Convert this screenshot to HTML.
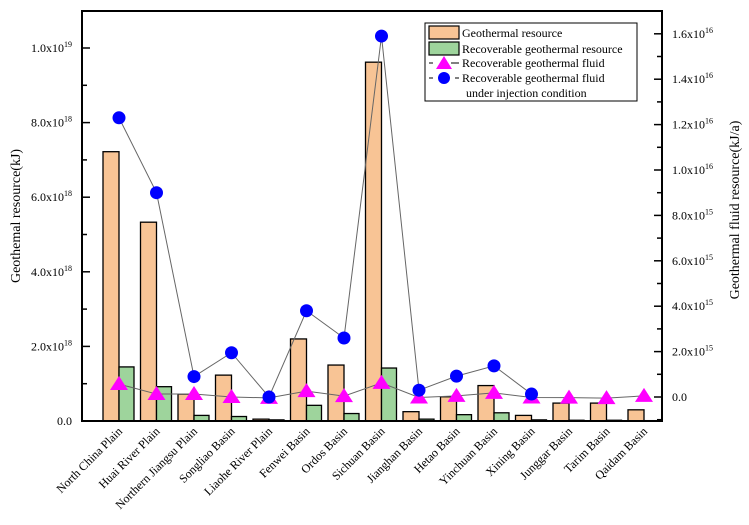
<!DOCTYPE html>
<html><head><meta charset="utf-8"><style>
body{margin:0;background:#fff;}
svg text{font-family:"Liberation Serif",serif;fill:#000;}
</style></head><body>
<svg id="chart" width="749" height="520" viewBox="0 0 749 520" xmlns="http://www.w3.org/2000/svg">
<rect x="0" y="0" width="749" height="520" fill="#fff"/>
<g id="bars"></g><g id="lines"></g><g id="marks"></g><g id="axes"></g>
<g>
<rect x="425" y="23" width="212" height="78" fill="#fff" stroke="#000" stroke-width="1"/>
<rect x="429" y="26" width="30" height="13" fill="#f8c495" stroke="#000" stroke-width="1.2"/>
<text x="462" y="37" font-size="12">Geothermal resource</text>
<rect x="429" y="42" width="30" height="13" fill="#9ed49c" stroke="#000" stroke-width="1.2"/>
<text x="462" y="53" font-size="12">Recoverable geothermal resource</text>
<line x1="429" y1="63" x2="459" y2="63" stroke="#000" stroke-dasharray="4,18"/>
<line x1="455" y1="63" x2="459" y2="63" stroke="#000"/>
<polygon points="444,56 452,69 436,69" fill="#ff00ff"/>
<text x="462" y="67" font-size="12">Recoverable geothermal fluid</text>
<line x1="429" y1="78" x2="433" y2="78" stroke="#000"/>
<line x1="455" y1="78" x2="459" y2="78" stroke="#000"/>
<circle cx="444" cy="78" r="6" fill="#0000ff"/>
<text x="462" y="82" font-size="12">Recoverable geothermal fluid</text>
<text x="466" y="97" font-size="12">under injection condition</text>
</g>
</svg>
<script>
const categories=["North China Plain","Huai River Plain","Northern Jiangsu Plain","Songliao Basin","Liaohe River Plain","Fenwei Basin","Ordos Basin","Sichuan Basin","Jianghan Basin","Hetao Basin","Yinchuan Basin","Xining Basin","Junggar Basin","Tarim Basin","Qaidam Basin"];
const geoResource=[7.22,5.33,0.72,1.23,0.05,2.2,1.5,9.62,0.25,0.65,0.95,0.15,0.48,0.48,0.3]; // 1e18 kJ
const recoverableResource=[1.45,0.92,0.15,0.12,0.03,0.42,0.2,1.42,0.05,0.17,0.22,0.03,0.02,0.02,0.01]; // 1e18 kJ
const recoverableFluid=[0.57,0.13,0.13,0.0,-0.04,0.26,0.04,0.62,-0.02,0.05,0.18,-0.02,-0.03,-0.05,0.05]; // 1e15 kJ/a
const injectionFluid=[12.3,9.0,0.9,1.95,0.0,3.8,2.6,15.9,0.3,0.92,1.37,0.13,null,null,null]; // 1e15 kJ/a
const leftTicks=[0,2,4,6,8,10];
const leftTickLabels=["0.0","2.0x10^18","4.0x10^18","6.0x10^18","8.0x10^18","1.0x10^19"];
const rightTicks=[0,2,4,6,8,10,12,14,16];
const rightTickLabels=["0.0","2.0x10^15","4.0x10^15","6.0x10^15","8.0x10^15","1.0x10^16","1.2x10^16","1.4x10^16","1.6x10^16"];

const NS="http://www.w3.org/2000/svg";
const L=82,R=662,T=11,B=421;
const xC=i=>119+37.5*i;
const yL=v=>421-v*37.3;
const yR=v=>397-v*22.7;
function mk(tag,attrs,parent,txt){const e=document.createElementNS(NS,tag);for(const k in attrs)e.setAttribute(k,attrs[k]);if(txt!==undefined)e.textContent=txt;document.getElementById(parent).appendChild(e);return e;}
function sup(el,label){const p=label.split("^");el.textContent=p[0];if(p[1]){const t=document.createElementNS(NS,"tspan");t.setAttribute("font-size","8");t.setAttribute("dy","-5");t.textContent=p[1];el.appendChild(t);}}

categories.forEach((c,i)=>{
 let y=yL(geoResource[i]);
 let b=mk("rect",{x:xC(i)-16,y:y,width:16,height:B-y,fill:"#f8c495",stroke:"#000","stroke-width":1.3},"bars");
 
 
 y=yL(recoverableResource[i]);
 b=mk("rect",{x:xC(i),y:y,width:15,height:B-y,fill:"#9ed49c",stroke:"#000","stroke-width":1.3},"bars");
 
 
 const lab=mk("text",{x:xC(i)+4,y:432,"font-size":12,"text-anchor":"end",transform:`rotate(-45 ${xC(i)+4} 432)`},"axes",c);
 
 
});
let p1=categories.map((c,i)=>`${xC(i)},${yR(recoverableFluid[i])}`).join(" ");
const l1=mk("polyline",{points:p1,fill:"none",stroke:"#666","stroke-width":1},"lines");


let p2=[];injectionFluid.forEach((v,i)=>{if(v!==null)p2.push(`${xC(i)},${yR(v)}`);});
const l2=mk("polyline",{points:p2.join(" "),fill:"none",stroke:"#666","stroke-width":1},"lines");


categories.forEach((c,i)=>{
 const x=xC(i),y=yR(recoverableFluid[i]);
 const t=mk("polygon",{points:`${x},${y-8} ${x+9},${y+6} ${x-9},${y+6}`,fill:"#ff00ff"},"marks");
 
 
 if(injectionFluid[i]!==null){
  const d=mk("circle",{cx:x,cy:yR(injectionFluid[i]),r:6.5,fill:"#0000ff"},"marks");
  
  
 }
});
const fr=mk("rect",{x:L,y:T,width:R-L,height:B-T,fill:"none",stroke:"#000","stroke-width":2},"axes");


leftTicks.forEach((v,i)=>{
 mk("line",{x1:L,x2:L+8,y1:yL(v),y2:yL(v),stroke:"#000","stroke-width":1.5},"axes");
 if(i<leftTicks.length-1)mk("line",{x1:L,x2:L+5,y1:yL(v+1),y2:yL(v+1),stroke:"#000","stroke-width":1.5},"axes");
 const t=mk("text",{x:72,y:yL(v)+4,"font-size":12,"text-anchor":"end"},"axes");
 sup(t,leftTickLabels[i]);
 
 
});
rightTicks.forEach((v,i)=>{
 mk("line",{x1:R-8,x2:R,y1:yR(v),y2:yR(v),stroke:"#000","stroke-width":1.5},"axes");
 if(yR(v+1)>T)mk("line",{x1:R-5,x2:R,y1:yR(v+1),y2:yR(v+1),stroke:"#000","stroke-width":1.5},"axes");
 if(v===0)mk("line",{x1:R-5,x2:R,y1:yR(-1),y2:yR(-1),stroke:"#000","stroke-width":1.5},"axes");
 const t=mk("text",{x:672,y:yR(v)+4,"font-size":12},"axes");
 sup(t,rightTickLabels[i]);
 
 
});
const yt=mk("text",{x:20,y:216,"font-size":14,"text-anchor":"middle",transform:"rotate(-90 20 216)"},"axes","Geothemal resource(kJ)");


const yt2=mk("text",{x:739,y:210,"font-size":14,"text-anchor":"middle",transform:"rotate(-90 739 210)"},"axes","Geothermal fluid resource(kJ/a)");


</script>
</body></html>
